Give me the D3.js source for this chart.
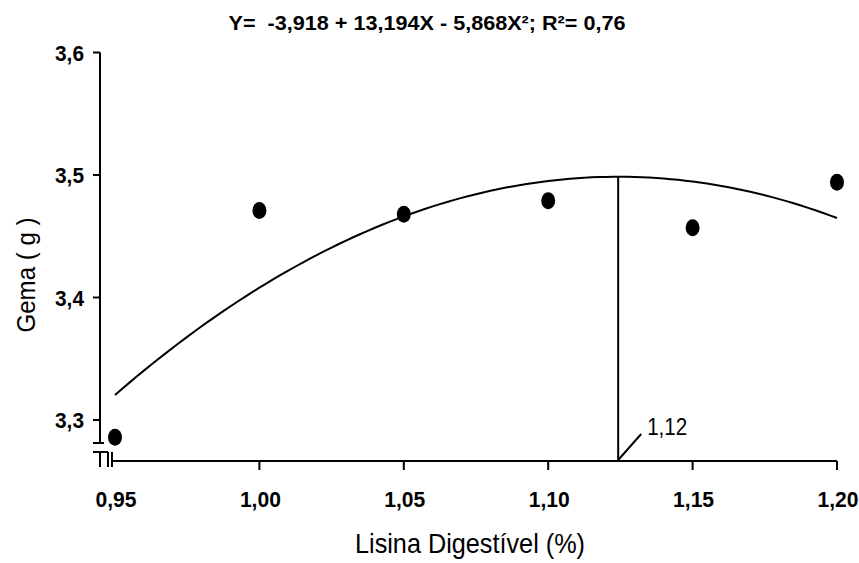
<!DOCTYPE html>
<html>
<head>
<meta charset="utf-8">
<script src="https://cdn.jsdelivr.net/npm/d3@7"></script>
<style>
  body { margin: 0; background: #fff; }
  text { font-family: "Liberation Sans", Arial, sans-serif; fill: #000; }
</style>
</head>
<body>
<svg id="chart" width="859" height="563"></svg>
<script>
const lisina = [0.95, 1.00, 1.05, 1.10, 1.15, 1.20]
const gema = [3.286, 3.471, 3.468, 3.479, 3.457, 3.494]
const xTicks = [0.95, 1.00, 1.05, 1.10, 1.15, 1.20]
const yTicks = [3.3, 3.4, 3.5, 3.6]
// regression coefficients: a + bX + cX^2
const coef = [-3.918, 13.194, -5.868]
const optimo = [1.12]

const svg = d3.select('#chart')

const x = d3.scaleLinear().domain([0.95, 1.20]).range([115, 837])
const y = d3.scaleLinear().domain([3.3, 3.6]).range([420, 52.5])
const fmt = (d) => d3.format('.2f')(d).replace('.', ',')
const fmtY = (d) => d3.format('.1f')(d).replace('.', ',')

const axisX = 100
const axisY = 461
const yBottom = 443

// y axis with break
svg.append('line')
  .attr('x1', axisX).attr('x2', axisX)
  .attr('y1', y(3.6)).attr('y2', yBottom)
  .attr('stroke', '#000').attr('stroke-width', 2)
svg.append('line')
  .attr('x1', axisX - 7).attr('x2', axisX + 4)
  .attr('y1', yBottom).attr('y2', yBottom)
  .attr('stroke', '#000').attr('stroke-width', 2)

svg.selectAll('.ytick')
  .data(yTicks)
  .enter()
  .append('line')
  .attr('class', 'ytick')
  .attr('x1', axisX - 7).attr('x2', axisX)
  .attr('y1', (d) => y(d)).attr('y2', (d) => y(d))
  .attr('stroke', '#000').attr('stroke-width', 2)

svg.selectAll('.ylabel')
  .data(yTicks)
  .enter()
  .append('text')
  .attr('class', 'ylabel')
  .attr('x', 84)
  .attr('y', (d) => y(d) + 8)
  .attr('text-anchor', 'end')
  .attr('font-size', '22px')
  .attr('font-weight', 'bold')
  .attr('textLength', 29)
  .attr('lengthAdjust', 'spacingAndGlyphs')
  .text(fmtY)

// break marks
const brk = svg.append('g').attr('stroke', '#000').attr('stroke-width', 2).attr('fill', 'none')
brk.append('path').attr('d', `M${axisX - 7},452 H${axisX + 8} M${axisX},452 V467 M${axisX + 8},452 V467`)
brk.append('line')
  .attr('x1', x(0.95) - 3).attr('x2', x(0.95) - 3)
  .attr('y1', 452).attr('y2', 467)

// x axis
svg.append('line')
  .attr('x1', x(0.95) - 3).attr('x2', x(1.20))
  .attr('y1', axisY).attr('y2', axisY)
  .attr('stroke', '#000').attr('stroke-width', 2)

svg.selectAll('.xtick')
  .data(xTicks.slice(1))
  .enter()
  .append('line')
  .attr('class', 'xtick')
  .attr('x1', (d) => x(d)).attr('x2', (d) => x(d))
  .attr('y1', axisY).attr('y2', axisY + 9)
  .attr('stroke', '#000').attr('stroke-width', 2)

svg.selectAll('.xlabel')
  .data(xTicks)
  .enter()
  .append('text')
  .attr('class', 'xlabel')
  .attr('x', (d) => x(d) + 1)
  .attr('y', 507)
  .attr('text-anchor', 'middle')
  .attr('font-size', '22px')
  .attr('font-weight', 'bold')
  .attr('textLength', 41)
  .attr('lengthAdjust', 'spacingAndGlyphs')
  .text(fmt)

// fitted curve
const fit = (v) => coef[0] + coef[1] * v + coef[2] * v * v
const curveX = d3.range(0.95, 1.2001, 0.0025)
svg.append('path')
  .datum(curveX)
  .attr('fill', 'none')
  .attr('stroke', '#000')
  .attr('stroke-width', 2)
  .attr('d', d3.line().x((d) => x(d)).y((d) => y(fit(d))))

// vertex line
const xv = -coef[1] / (2 * coef[2])
svg.append('line')
  .attr('x1', x(xv)).attr('x2', x(xv))
  .attr('y1', y(fit(xv))).attr('y2', axisY)
  .attr('stroke', '#000').attr('stroke-width', 2)
svg.append('line')
  .attr('x1', x(xv)).attr('x2', x(xv) + 23)
  .attr('y1', axisY - 1).attr('y2', axisY - 27)
  .attr('stroke', '#000').attr('stroke-width', 2)
svg.append('text')
  .attr('x', x(xv) + 29)
  .attr('y', axisY - 26)
  .attr('font-size', '23px')
  .attr('textLength', 40)
  .attr('lengthAdjust', 'spacingAndGlyphs')
  .text(optimo.map((d) => fmt(d)).join(''))

// points
svg.selectAll('.pt')
  .data(lisina)
  .enter()
  .append('ellipse')
  .attr('class', 'pt')
  .attr('cx', (d) => x(d))
  .attr('cy', (d, i) => y(gema[i]))
  .attr('rx', 7)
  .attr('ry', 8.5)
  .attr('fill', '#000')

// titles
svg.append('text')
  .attr('x', 427)
  .attr('y', 30)
  .attr('text-anchor', 'middle')
  .attr('font-size', '20px')
  .attr('font-weight', 'bold')
  .attr('xml:space', 'preserve')
  .attr('textLength', 397)
  .attr('lengthAdjust', 'spacingAndGlyphs')
  .text('Y=  -3,918 + 13,194X - 5,868X²; R²= 0,76')

svg.append('text')
  .attr('x', 470)
  .attr('y', 553)
  .attr('text-anchor', 'middle')
  .attr('font-size', '28px')
  .attr('textLength', 230)
  .attr('lengthAdjust', 'spacingAndGlyphs')
  .text('Lisina Digestível (%)')

svg.append('text')
  .attr('transform', 'translate(35,275) rotate(-90)')
  .attr('text-anchor', 'middle')
  .attr('font-size', '25px')
  .attr('xml:space', 'preserve')
  .attr('textLength', 115)
  .attr('lengthAdjust', 'spacingAndGlyphs')
  .text('Gema ( g )')
</script>
</body>
</html>
